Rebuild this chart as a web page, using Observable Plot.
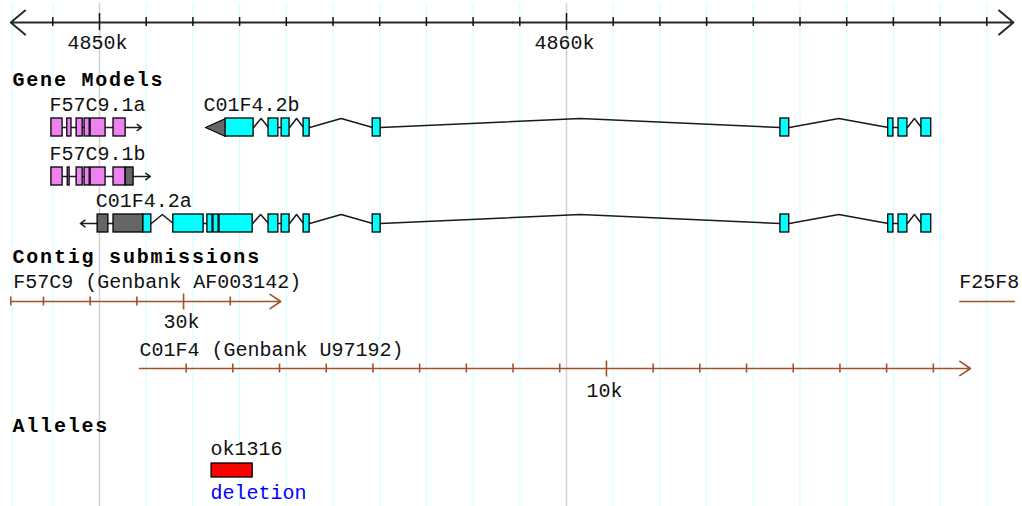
<!DOCTYPE html>
<html>
<head>
<meta charset="utf-8">
<script src="https://cdn.jsdelivr.net/npm/d3@7"></script>
<script src="https://cdn.jsdelivr.net/npm/@observablehq/plot@0.6"></script>
<style>body{margin:0;background:#fff}</style>
</head>
<body>
<div id="chart"></div>
<script>
// ---------------- data ----------------
const viewRange = [4848100, 4869600];
const axisMinorTicks = [4849000,4851000,4852000,4853000,4854000,4855000,4856000,4857000,4858000,4859000,
                        4861000,4862000,4863000,4864000,4865000,4866000,4867000,4868000,4869000];
const axisMajorTicks = [4850000, 4860000];
const axisMajorLabels = ["4850k", "4860k"];

const trackHeaders = ["Gene Models", "Contig submissions", "Alleles"];

const geneNames   = ["F57C9.1a", "F57C9.1b", "C01F4.2b", "C01F4.2a"];
const geneRows    = [0, 1, 0, 2];
const geneColors  = ["#ee82ee", "#ee82ee", "#00ffff", "#00ffff"];
const geneStrands = [1, 1, -1, -1];
const geneArrowTips = [4850900, 4851090, null, 4849590];
// segments: [start, end, kind]  kind: cds | utr | end (pointed UTR end)
const geneSegments = [
  [[4848970,4849210,"cds"],[4849310,4849400,"cds"],[4849510,4849640,"cds"],[4849680,4849790,"cds"],
   [4849810,4850130,"cds"],[4850300,4850560,"cds"]],
  [[4848970,4849210,"cds"],[4849320,4849360,"cds"],[4849510,4849640,"cds"],[4849680,4849790,"cds"],
   [4849810,4850130,"cds"],[4850300,4850560,"cds"],[4850560,4850730,"utr"]],
  [[4852270,4852700,"end"],[4852700,4853300,"cds"],[4853620,4853830,"cds"],[4853900,4854070,"cds"],
   [4854370,4854500,"cds"],[4855850,4856020,"cds"],[4864580,4864770,"cds"],[4866890,4867000,"cds"],
   [4867110,4867300,"cds"],[4867600,4867810,"cds"]],
  [[4849960,4850190,"utr"],[4850300,4850940,"utr"],[4850940,4851110,"cds"],[4851580,4852230,"cds"],
   [4852310,4852420,"cds"],[4852440,4852550,"cds"],[4852570,4853280,"cds"],[4853620,4853830,"cds"],
   [4853900,4854070,"cds"],[4854370,4854500,"cds"],[4855850,4856020,"cds"],[4864580,4864770,"cds"],
   [4866890,4867000,"cds"],[4867110,4867300,"cds"],[4867600,4867810,"cds"]]
];

const contigNames  = ["F57C9 (Genbank AF003142)", "C01F4 (Genbank U97192)", "F25F8"];
const contigRows   = [0, 1, 0];
const contigStarts = [4848100, 4850855, 4868410];
const contigEnds   = [4853880, 4868650, 4869600];
const contigOrigins = [4821800, 4850855, 4868410];
const contigArrow  = [true, true, false];
const contigStartCap = [true, false, false];
const contigMinorTicks = [[27000,28000,29000,31000],
                          [1000,2000,3000,4000,5000,6000,7000,8000,9000,11000,12000,13000,14000,15000,16000,17000],
                          []];
const contigMajorTicks = [[30000],[10000],[]];
const contigMajorLabels = [["30k"],["10k"],[]];

const alleleNames = ["ok1316"];
const alleleTypes = ["deletion"];
const alleleStarts = [4852400];
const alleleEnds = [4853280];

// ---------------- layout ----------------
const L = {
  width: 1022, height: 506,
  pxAt: 99, refBp: 4850000, pxPerBp: 0.0467,
  axisY: 22, gridTop: 3,
  headerY: [85, 262, 431], headerX: 12,
  rowTop: [118, 167, 214], rowH: 18,
  contigLineY: [301, 368], contigLabelY: [287, 355], contigTickLabelY: [327, 396],
  alleleLabelY: 454, alleleTop: 463, alleleBottom: 477, alleleTypeY: 498,
  clippedLabelPad: 2.5
};
const font = "Liberation Mono";
const pxRange = viewRange.map(b => L.pxAt + (b - L.refBp) * L.pxPerBp);

// ---------------- derived mark data ----------------
const segRects = [], introns = [], geneArrows = [], triangles = [], geneLabels = [];
geneNames.forEach((name, g) => {
  const top = L.rowTop[geneRows[g]], bot = top + L.rowH, mid = (top + bot) / 2;
  const segs = geneSegments[g];
  segs.forEach(([a, b, k]) => {
    if (k === "end") {
      const id = name + "-tri";
      triangles.push({id, x: b, y: top}, {id, x: a, y: mid}, {id, x: b, y: bot}, {id, x: b, y: top});
    } else {
      segRects.push({x1: a, x2: b, y1: top, y2: bot, fill: k === "cds" ? geneColors[g] : "#666666"});
    }
  });
  for (let i = 1; i < segs.length; i++) {
    const e0 = segs[i - 1][1], s1 = segs[i][0];
    if (s1 <= e0) continue;
    const id = name + "-i" + i;
    if (s1 - e0 < 240) {
      introns.push({id, x: e0, y: mid}, {id, x: s1, y: mid});
    } else {
      introns.push({id, x: e0, y: mid}, {id, x: (e0 + s1) / 2, y: top}, {id, x: s1, y: mid});
    }
  }
  const tip = geneArrowTips[g];
  if (tip != null) {
    const from = geneStrands[g] > 0 ? segs[segs.length - 1][1] : segs[0][0];
    geneArrows.push({x1: from, x2: tip, y1: mid, y2: mid});
  }
  geneLabels.push({x: segs[0][0], y: top - 8, text: name});
});

const contigLines = [], contigArrows = [], contigTicks = [], contigTickLabels = [], contigLabels = [];
contigNames.forEach((name, c) => {
  const y = L.contigLineY[contigRows[c]];
  if (contigArrow[c]) contigArrows.push({x1: contigStarts[c], x2: contigEnds[c], y});
  else contigLines.push({x1: contigStarts[c], x2: contigEnds[c], y});
  if (contigStartCap[c]) contigTicks.push({x: contigStarts[c], y1: y - 4.5, y2: y + 4.5});
  contigMinorTicks[c].forEach(p => contigTicks.push({x: contigOrigins[c] + p, y1: y - 4.5, y2: y + 4.5}));
  contigMajorTicks[c].forEach((p, j) => {
    contigTicks.push({x: contigOrigins[c] + p, y1: y - 7.5, y2: y + 8.5});
    contigTickLabels.push({x: contigOrigins[c] + p, y: L.contigTickLabelY[contigRows[c]], text: contigMajorLabels[c][j]});
  });
  const clipped = contigStarts[c] <= viewRange[0];
  contigLabels.push({
    x: clipped ? contigStarts[c] + L.clippedLabelPad / L.pxPerBp : contigStarts[c],
    y: L.contigLabelY[contigRows[c]], text: name
  });
});

const alleles = alleleNames.map((n, i) => ({name: n, type: alleleTypes[i], x1: alleleStarts[i], x2: alleleEnds[i]}));

const axisMid = (viewRange[0] + viewRange[1]) / 2;

const chart = Plot.plot({
  width: L.width, height: L.height, margin: 0,
  style: "background:#fff;overflow:visible;",
  x: {domain: viewRange, range: pxRange, axis: null},
  y: {domain: [0, L.height], range: [0, L.height], axis: null},
  marks: [
    // grid
    Plot.ruleX([viewRange[0]], {x: d => d, y1: L.gridTop, y2: L.height, stroke: "#ccffff", strokeWidth: 1, dx: 1.5}),
    Plot.ruleX(axisMinorTicks, {x: d => d, y1: L.gridTop, y2: L.height, stroke: "#ccffff", strokeWidth: 1}),
    Plot.ruleX(axisMajorTicks, {x: d => d, y1: L.gridTop, y2: L.height, stroke: "#d2d2d2", strokeWidth: 1.5}),
    // top ruler
    Plot.arrow([{a: axisMid, b: viewRange[0]}, {a: axisMid, b: viewRange[1] - 30}], {
      x1: "a", x2: "b", y1: () => L.axisY, y2: () => L.axisY,
      stroke: "#2a2a2a", strokeWidth: 2, headLength: 14, headAngle: 80
    }),
    Plot.ruleX(axisMinorTicks, {x: d => d, y1: L.axisY - 5, y2: L.axisY + 4, stroke: "#111", strokeWidth: 1.5}),
    Plot.ruleX(axisMajorTicks, {x: d => d, y1: L.axisY - 9, y2: L.axisY + 8, stroke: "#111", strokeWidth: 1.5}),
    Plot.text(axisMajorTicks, {x: d => d, y: () => L.axisY + 26, text: (d, i) => axisMajorLabels[i],
      textAnchor: "middle", lineAnchor: "bottom", dx: -2, fontFamily: font, fontSize: 20, fill: "#111"}),
    // headers
    Plot.text(trackHeaders, {frameAnchor: "left", dx: L.headerX, y: (d, i) => L.headerY[i], text: d => d,
      textAnchor: "start", lineAnchor: "bottom", fontFamily: font, fontSize: 20, fontWeight: "bold", fill: "#000"}),
    // genes
    Plot.line(introns, {x: "x", y: "y", z: "id", stroke: "#1a1a1a", strokeWidth: 1.5}),
    Plot.arrow(geneArrows, {x1: "x1", x2: "x2", y1: "y1", y2: "y2", stroke: "#1a1a1a", strokeWidth: 1.5,
      headLength: 8, headAngle: 70}),
    Plot.line(triangles, {x: "x", y: "y", z: "id", fill: "#666666", stroke: "#000", strokeWidth: 1.2}),
    Plot.rect(segRects, {x1: "x1", x2: "x2", y1: "y1", y2: "y2", fill: "fill", stroke: "#000", strokeWidth: 1.3}),
    Plot.text(geneLabels, {x: "x", y: "y", text: "text", dx: -2, textAnchor: "start", lineAnchor: "bottom",
      fontFamily: font, fontSize: 20, fill: "#111"}),
    // contigs
    Plot.link(contigLines, {x1: "x1", x2: "x2", y1: "y", y2: "y", stroke: "#a0522d", strokeWidth: 1.6}),
    Plot.arrow(contigArrows, {x1: "x1", x2: "x2", y1: "y", y2: "y", stroke: "#a0522d", strokeWidth: 1.6,
      headLength: 12, headAngle: 68}),
    Plot.ruleX(contigTicks, {x: "x", y1: "y1", y2: "y2", stroke: "#a0522d", strokeWidth: 1.6}),
    Plot.text(contigTickLabels, {x: "x", y: "y", text: "text", dx: -2, textAnchor: "middle", lineAnchor: "bottom",
      fontFamily: font, fontSize: 20, fill: "#111"}),
    Plot.text(contigLabels, {x: "x", y: "y", text: "text", textAnchor: "start", lineAnchor: "bottom",
      fontFamily: font, fontSize: 20, fill: "#111"}),
    // alleles
    Plot.rect(alleles, {x1: "x1", x2: "x2", y1: () => L.alleleTop, y2: () => L.alleleBottom,
      fill: "#ff0000", stroke: "#000", strokeWidth: 1.3}),
    Plot.text(alleles, {x: "x1", y: () => L.alleleLabelY, text: "name", dx: -1, textAnchor: "start",
      lineAnchor: "bottom", fontFamily: font, fontSize: 20, fill: "#111"}),
    Plot.text(alleles, {x: "x1", y: () => L.alleleTypeY, text: "type", dx: -1, textAnchor: "start",
      lineAnchor: "bottom", fontFamily: font, fontSize: 20, fill: "#0000ff"})
  ]
});
chart.querySelectorAll("text").forEach(t => {
  if (trackHeaders.includes(t.textContent)) t.setAttribute("letter-spacing", "1.8");
});
document.getElementById("chart").appendChild(chart);
</script>
</body>
</html>
